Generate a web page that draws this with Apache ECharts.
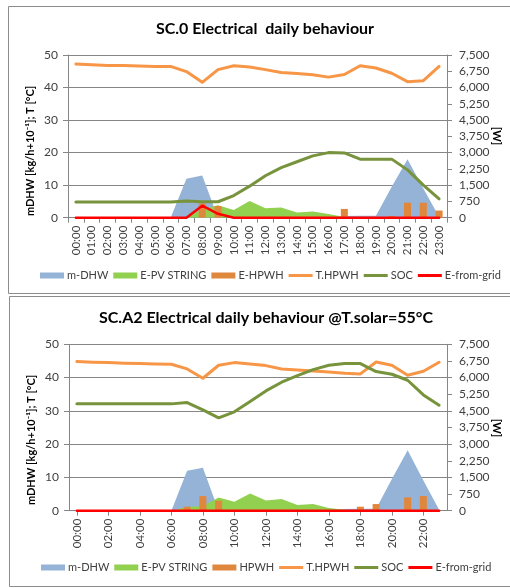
<!DOCTYPE html>
<html><head><meta charset="utf-8">
<script src="https://cdn.jsdelivr.net/npm/echarts@6/dist/echarts.min.js"></script>
<style>html,body{margin:0;padding:0;background:#fff}#c{width:510px;height:588px}</style>
</head><body><div id="c"></div>
<script>
var hours = ["00:00","01:00","02:00","03:00","04:00","05:00","06:00","07:00","08:00","09:00","10:00","11:00","12:00","13:00","14:00","15:00","16:00","17:00","18:00","19:00","20:00","21:00","22:00","23:00"];
var leftTicks = [0,10,20,30,40,50];
var rightTicks = [0,750,1500,2250,3000,3750,4500,5250,6000,6750,7500];

// SC.0 (top)
var mdhw0  = [0,0,0,0,0,0,0,12,13,0,0,0,0,0,0,0,0,0.5,0.6,0.6,9.5,18,9,0.3];
var pv0    = [0,0,0,0,0,0,0,30,375,570,360,765,435,465,240,285,165,30,0,0,0,0,0,0];
var hpwh0  = [0,0,0,0,0,0,0,0,660,540,0,0,0,0,0,0,0,405,0,0,75,690,690,330];
var thpwh0 = [47.2,47.0,46.8,46.8,46.6,46.5,46.5,44.9,41.6,45.5,46.7,46.3,45.5,44.6,44.3,43.9,43.2,44.0,46.7,46.0,44.4,41.8,42.1,46.5];
var soc0   = [4.8,4.8,4.8,4.8,4.8,4.8,4.8,5.1,4.9,4.9,6.8,9.7,12.9,15.4,17.2,19.0,20.0,19.9,18.0,18.0,18.0,14.7,10.0,5.8];
var grid0  = [0,0,0,0,0,0,0,0,555,180,0,0,0,0,0,0,0,0,0,0,0,0,0,0];

// SC.A2 (bottom)
var mdhw1  = [0,0,0,0,0,0,0,12,12.9,0,0,0,0,0,0,0,0,0.5,0.6,0.6,9.5,18.2,9.1,0.3];
var pv1    = [0,0,0,0,0,0,0,165,210,600,405,780,465,525,255,300,120,45,0,0,0,0,0,0];
var hpwh1  = [0,0,0,0,0,0,0,180,660,450,0,0,0,0,0,0,0,0,180,300,0,600,660,0];
var thpwh1 = [44.8,44.6,44.5,44.3,44.2,44.1,44.0,42.6,39.8,43.7,44.5,44.1,43.6,42.6,42.3,42.0,41.7,41.3,41.1,44.7,43.7,40.7,41.9,44.6];
var soc1   = [32.1,32.1,32.1,32.1,32.1,32.1,32.1,32.5,30.3,27.9,29.7,32.8,36.0,38.6,40.6,42.4,43.7,44.2,44.2,41.8,41.0,39.2,34.8,31.7];
var grid1  = [0,0,0,0,0,0,0,0,0,0,0,0,0,0,0,0,0,0,0,0,0,0,0,0];

var namesTop = ["m-DHW","E-PV STRING","E-HPWH","T.HPWH","SOC","E-from-grid"];
var namesBot = ["m-DHW","E-PV STRING","HPWH","T.HPWH","SOC","E-from-grid"];
var titles = ["SC.0 Electrical  daily behaviour","SC.A2 Electrical daily behaviour @T.solar=55°C"];

var C = {blue:"#95B3D7", green:"#92D050", bar:"#E0873E", t:"#F79646", soc:"#77933C", red:"#FF0000"};
var FONT = "Lato";
var axisCol = "#868686", txtCol = "#404040";

function xAx(gi, sparse){
  return {type:"category", gridIndex:gi, data:hours, boundaryGap:true,
    axisLine:{lineStyle:{color:axisCol}},
    axisTick:{show:true, length:5, lineStyle:{color:axisCol}, interval: sparse?1:0, alignWithLabel: sparse},
    axisLabel:{rotate:90, interval: sparse?1:0, margin:8, color:txtCol, fontFamily:FONT, fontSize:11.5}};
}
function yL(gi){
  return {type:"value", gridIndex:gi, position:"left", min:leftTicks[0], max:leftTicks[leftTicks.length-1], interval:10,
    axisLine:{show:true, lineStyle:{color:axisCol}},
    axisTick:{show:true, length:5, lineStyle:{color:axisCol}},
    splitLine:{show:true, lineStyle:{color:axisCol, width:1}},
    axisLabel:{margin:10, color:txtCol, fontFamily:FONT, fontSize:12}};
}
function yR(gi){
  return {type:"value", gridIndex:gi, position:"right", min:rightTicks[0], max:rightTicks[rightTicks.length-1], interval:750,
    axisLine:{show:true, lineStyle:{color:axisCol}},
    axisTick:{show:true, length:5, lineStyle:{color:axisCol}},
    splitLine:{show:false},
    axisLabel:{margin:12, color:txtCol, fontFamily:FONT, fontSize:12,
      formatter:function(v){return v.toLocaleString("en-US");}}};
}
function seriesFor(gi, names, m, pv, hp, t, s, g){
  var xi = gi, yl = gi*2, yr = gi*2+1;
  return [
    {name:names[0], type:"line", z:1, xAxisIndex:xi, yAxisIndex:yl, data:m, showSymbol:false, symbol:"none",
      lineStyle:{width:0}, areaStyle:{color:C.blue, opacity:1}, itemStyle:{color:C.blue}, silent:true},
    {name:names[1], type:"line", z:2, xAxisIndex:xi, yAxisIndex:yr, data:pv, showSymbol:false, symbol:"none",
      lineStyle:{width:0}, areaStyle:{color:C.green, opacity:1}, itemStyle:{color:C.green}, silent:true},
    {name:names[2], type:"bar", z:3, xAxisIndex:xi, yAxisIndex:yr, data:hp, barWidth:7, itemStyle:{color:C.bar}, silent:true},
    {name:names[3], type:"line", z:4, xAxisIndex:xi, yAxisIndex:yl, data:t, showSymbol:false, symbol:"none",
      lineStyle:{width:3, color:C.t, join:"round", cap:"round"}, itemStyle:{color:C.t}, silent:true},
    {name:names[4], type:"line", z:5, xAxisIndex:xi, yAxisIndex:yl, data:s, showSymbol:false, symbol:"none",
      lineStyle:{width:3, color:C.soc, join:"round", cap:"round"}, itemStyle:{color:C.soc}, silent:true},
    {name:names[5], type:"line", z:6, xAxisIndex:xi, yAxisIndex:yr, data:g, showSymbol:false, symbol:"none",
      lineStyle:{width:2.5, color:C.red, join:"round", cap:"round"}, itemStyle:{color:C.red}, silent:true}
  ];
}
function legendFor(names, left, top){
  var thin = "path://M0,0H24V3H0Z";
  return {left:left, top:top, width:490, itemWidth:24, itemHeight:6, itemGap:5, selectedMode:false, padding:0,
    textStyle:{color:txtCol, fontFamily:FONT, fontSize:11, padding:[0,0,0,-2]},
    data:[{name:names[0],icon:"rect"},{name:names[1],icon:"rect"},{name:names[2],icon:"rect"},
          {name:names[3],icon:thin},{name:names[4],icon:thin},{name:names[5],icon:thin}]};
}

var chart = echarts.init(document.getElementById("c"), null, {renderer:"canvas"});
chart.setOption({
  animation:false,
  backgroundColor:"#fff",
  grid:[
    {left:68, top:55, right:63, height:162.7},
    {left:69, top:344.3, right:63, height:166.4}
  ],
  xAxis:[xAx(0,false), xAx(1,true)],
  yAxis:[yL(0), yR(0), yL(1), yR(1)],
  legend:[legendFor(namesTop, 40, 270), legendFor(namesBot, 41, 562)],
  series: seriesFor(0, namesTop, mdhw0, pv0, hpwh0, thpwh0, soc0, grid0)
    .concat(seriesFor(1, namesBot, mdhw1, pv1, hpwh1, thpwh1, soc1, grid1)),
  graphic:[
    {type:"rect", shape:{x:8.5, y:6.5, width:520, height:287}, style:{fill:null, stroke:"#8c8c8c", lineWidth:1}, silent:true, z:-10},
    {type:"rect", shape:{x:9.5, y:296.5, width:520, height:290}, style:{fill:null, stroke:"#8c8c8c", lineWidth:1}, silent:true, z:-10},
    {type:"text", x:265, y:29, style:{text:titles[0], font:"bold 16px "+FONT, fill:"#000", textAlign:"center", textVerticalAlign:"middle"}},
    {type:"text", x:266, y:318, style:{text:titles[1], font:"bold 16px "+FONT, fill:"#000", textAlign:"center", textVerticalAlign:"middle"}},
    {type:"text", x:30, y:151, rotation:Math.PI/2, style:{text:"mDHW [kg/h+10⁻¹]; T [°C]", font:"bold 11px "+FONT, fill:"#000", textAlign:"center", textVerticalAlign:"middle"}},
    {type:"text", x:31, y:440, rotation:Math.PI/2, style:{text:"mDHW [kg/h+10⁻¹]; T [°C]", font:"bold 11px "+FONT, fill:"#000", textAlign:"center", textVerticalAlign:"middle"}},
    {type:"text", x:497, y:136, rotation:-Math.PI/2, style:{text:"[W]", font:"bold 11px "+FONT, fill:"#000", textAlign:"center", textVerticalAlign:"middle"}},
    {type:"text", x:497, y:428, rotation:-Math.PI/2, style:{text:"[W]", font:"bold 11px "+FONT, fill:"#000", textAlign:"center", textVerticalAlign:"middle"}}
  ]
});
</script></body></html>
